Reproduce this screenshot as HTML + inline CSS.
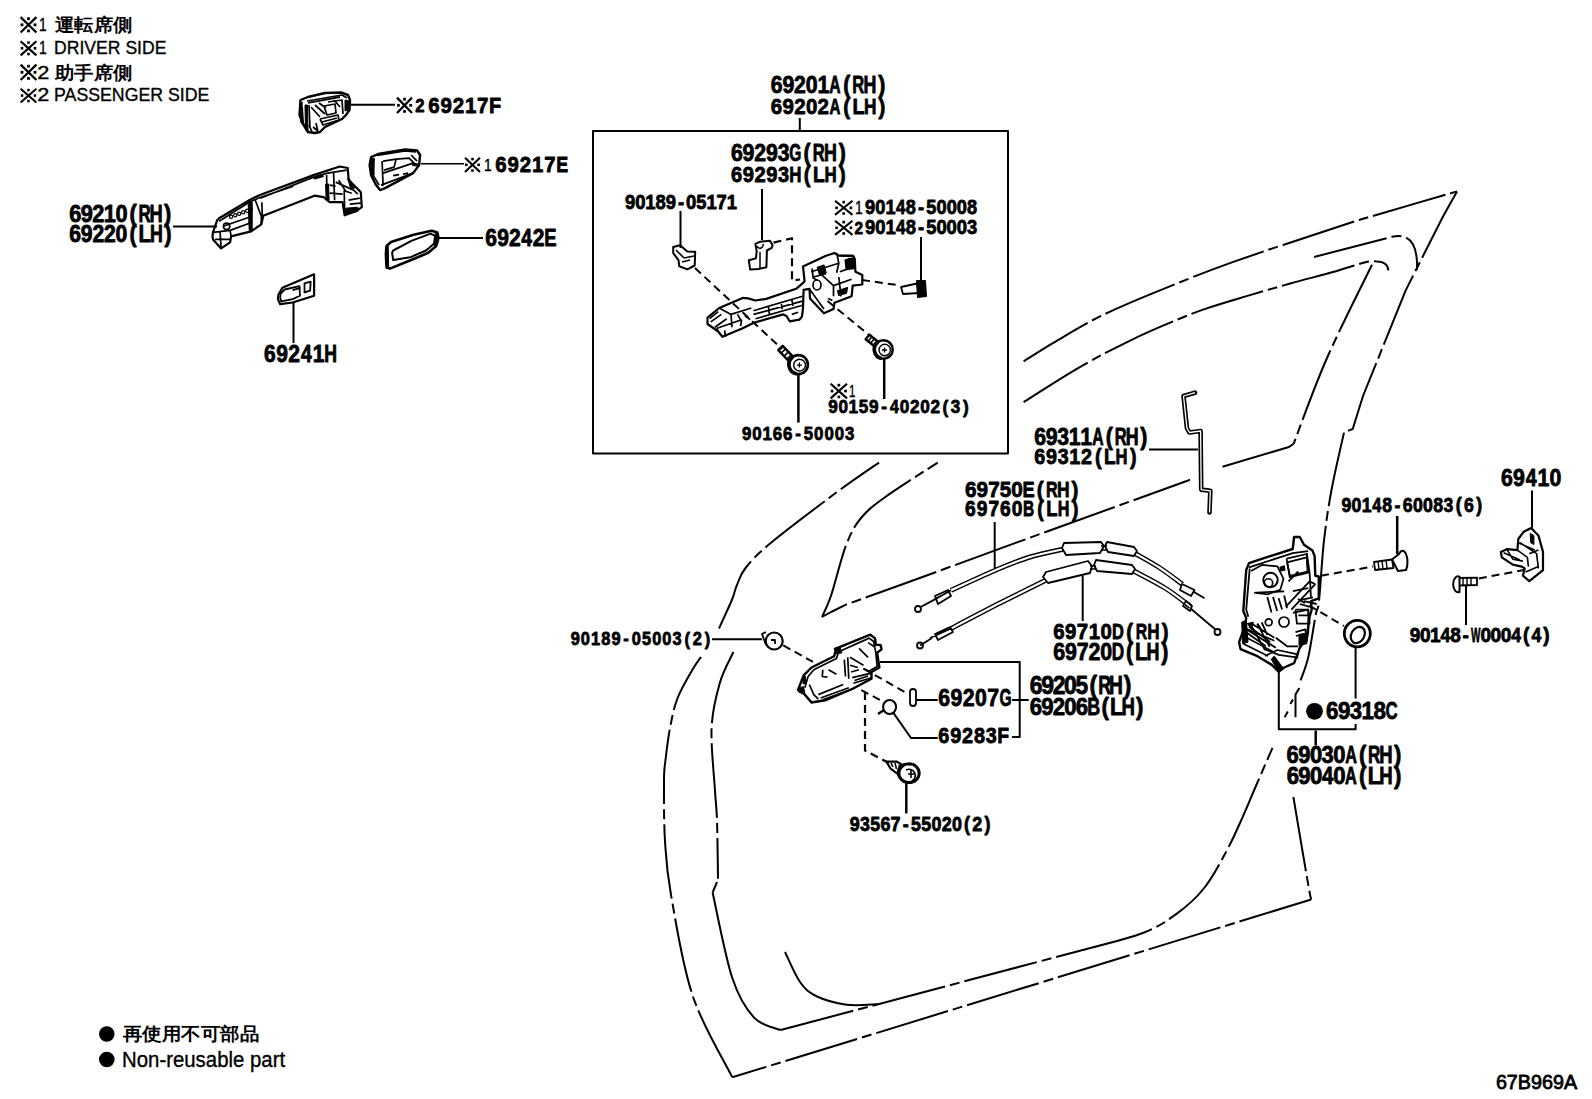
<!DOCTYPE html>
<html><head><meta charset="utf-8"><style>
html,body{margin:0;padding:0;background:#fff;}
body{width:1592px;height:1099px;overflow:hidden;}
svg{display:block;}
text{font-family:"Liberation Sans", sans-serif;fill:#000;}
</style></head><body>
<svg width="1592" height="1099" viewBox="0 0 1592 1099" stroke-linecap="butt" stroke-linejoin="round">
<path d="M20.6 41.2L36.4 55.4M36.4 41.2L20.6 55.4" stroke="#000" stroke-width="2.10" fill="none"/>
<rect x="27.2" y="41.3" width="2.6" height="2.6"/>
<rect x="27.2" y="52.7" width="2.6" height="2.6"/>
<rect x="20.7" y="47.0" width="2.6" height="2.6"/>
<rect x="33.7" y="47.0" width="2.6" height="2.6"/>
<text x="38.9" y="53.8" font-size="17.86" font-weight="400" textLength="7.7" lengthAdjust="spacingAndGlyphs" stroke="#000" stroke-width="0.35">1</text>
<text x="54.1" y="53.8" font-size="17.86" font-weight="400" textLength="112.3" lengthAdjust="spacingAndGlyphs" stroke="#000" stroke-width="0.35">DRIVER SIDE</text>
<path d="M20.6 17.1L36.4 32.5M36.4 17.1L20.6 32.5" stroke="#000" stroke-width="2.25" fill="none"/>
<rect x="27.1" y="17.3" width="2.8" height="2.8"/>
<rect x="27.1" y="29.5" width="2.8" height="2.8"/>
<rect x="20.6" y="23.4" width="2.8" height="2.8"/>
<rect x="33.6" y="23.4" width="2.8" height="2.8"/>
<text x="38.9" y="30.5" font-size="18.57" font-weight="400" textLength="7.7" lengthAdjust="spacingAndGlyphs" stroke="#000" stroke-width="0.35">1</text>
<text x="55" y="31" font-size="18" font-weight="700" textLength="77" lengthAdjust="spacingAndGlyphs">運転席側</text>
<path d="M20.6 64.6L36.4 80.0M36.4 64.6L20.6 80.0" stroke="#000" stroke-width="2.25" fill="none"/>
<rect x="27.1" y="64.8" width="2.8" height="2.8"/>
<rect x="27.1" y="77.0" width="2.8" height="2.8"/>
<rect x="20.6" y="70.9" width="2.8" height="2.8"/>
<rect x="33.6" y="70.9" width="2.8" height="2.8"/>
<text x="37.3" y="78.5" font-size="18.57" font-weight="400" textLength="12.1" lengthAdjust="spacingAndGlyphs" stroke="#000" stroke-width="0.35">2</text>
<text x="55" y="79" font-size="18" font-weight="700" textLength="77" lengthAdjust="spacingAndGlyphs">助手席側</text>
<path d="M20.6 88.7L36.4 102.4M36.4 88.7L20.6 102.4" stroke="#000" stroke-width="2.02" fill="none"/>
<rect x="27.2" y="88.8" width="2.5" height="2.5"/>
<rect x="27.2" y="99.8" width="2.5" height="2.5"/>
<rect x="20.8" y="94.3" width="2.5" height="2.5"/>
<rect x="33.7" y="94.3" width="2.5" height="2.5"/>
<text x="37.3" y="100.6" font-size="18.00" font-weight="400" textLength="12.1" lengthAdjust="spacingAndGlyphs" stroke="#000" stroke-width="0.35">2</text>
<text x="54.1" y="100.6" font-size="18.00" font-weight="400" textLength="155.2" lengthAdjust="spacingAndGlyphs" stroke="#000" stroke-width="0.35">PASSENGER SIDE</text>
<path d="M397.0 97.6L412.0 113.0M412.0 97.6L397.0 113.0" stroke="#000" stroke-width="2.25" fill="none"/>
<rect x="403.1" y="97.8" width="2.8" height="2.8"/>
<rect x="403.1" y="110.0" width="2.8" height="2.8"/>
<rect x="397.0" y="103.9" width="2.8" height="2.8"/>
<rect x="409.3" y="103.9" width="2.8" height="2.8"/>
<g font-size="18.36" font-weight="700" text-anchor="middle" stroke="#000" stroke-width="0.8"><text transform="translate(420.0 111.7) scale(0.908 1)">2</text></g>
<g font-size="22.60" font-weight="700" text-anchor="middle" stroke="#000" stroke-width="0.8"><text transform="translate(434.0 112.7) scale(0.908 1)">6</text><text transform="translate(446.2 112.7) scale(0.908 1)">9</text><text transform="translate(458.4 112.7) scale(0.908 1)">2</text><text transform="translate(470.6 112.7) scale(0.908 1)">1</text><text transform="translate(482.8 112.7) scale(0.908 1)">7</text><text transform="translate(495.0 112.7) scale(0.883 1)">F</text></g>
<path d="M465.0 157.7L480.0 171.9M480.0 157.7L465.0 171.9" stroke="#000" stroke-width="2.10" fill="none"/>
<rect x="471.2" y="157.8" width="2.6" height="2.6"/>
<rect x="471.2" y="169.2" width="2.6" height="2.6"/>
<rect x="465.0" y="163.5" width="2.6" height="2.6"/>
<rect x="477.3" y="163.5" width="2.6" height="2.6"/>
<text x="483.9" y="171.0" font-size="15.71" font-weight="400" textLength="7.7" lengthAdjust="spacingAndGlyphs" stroke="#000" stroke-width="0.35">1</text>
<g font-size="22.46" font-weight="700" text-anchor="middle" stroke="#000" stroke-width="0.8"><text transform="translate(500.9 172.3) scale(0.908 1)">6</text><text transform="translate(513.2 172.3) scale(0.908 1)">9</text><text transform="translate(525.4 172.3) scale(0.908 1)">2</text><text transform="translate(537.6 172.3) scale(0.908 1)">1</text><text transform="translate(549.8 172.3) scale(0.908 1)">7</text><text transform="translate(562.1 172.3) scale(0.798 1)">E</text></g>
<g font-size="24.01" font-weight="700" text-anchor="middle" stroke="#000" stroke-width="0.8"><text transform="translate(75.3 221.7) scale(0.908 1)">6</text><text transform="translate(86.8 221.7) scale(0.908 1)">9</text><text transform="translate(98.4 221.7) scale(0.908 1)">2</text><text transform="translate(109.9 221.7) scale(0.908 1)">1</text><text transform="translate(121.5 221.7) scale(0.908 1)">0</text><text transform="translate(133.1 221.7) scale(0.908 1)">(</text><text transform="translate(144.6 221.7) scale(0.705 1)">R</text><text transform="translate(156.2 221.7) scale(0.762 1)">H</text><text transform="translate(167.7 221.7) scale(0.908 1)">)</text></g>
<g font-size="23.31" font-weight="700" text-anchor="middle" stroke="#000" stroke-width="0.8"><text transform="translate(75.1 242.2) scale(0.908 1)">6</text><text transform="translate(86.7 242.2) scale(0.908 1)">9</text><text transform="translate(98.3 242.2) scale(0.908 1)">2</text><text transform="translate(109.9 242.2) scale(0.908 1)">2</text><text transform="translate(121.5 242.2) scale(0.908 1)">0</text><text transform="translate(133.1 242.2) scale(0.908 1)">(</text><text transform="translate(144.7 242.2) scale(0.872 1)">L</text><text transform="translate(156.3 242.2) scale(0.762 1)">H</text><text transform="translate(167.9 242.2) scale(0.908 1)">)</text></g>
<g font-size="23.16" font-weight="700" text-anchor="middle" stroke="#000" stroke-width="0.8"><text transform="translate(491.1 245.7) scale(0.908 1)">6</text><text transform="translate(503.0 245.7) scale(0.908 1)">9</text><text transform="translate(514.8 245.7) scale(0.908 1)">2</text><text transform="translate(526.7 245.7) scale(0.836 1)">4</text><text transform="translate(538.5 245.7) scale(0.908 1)">2</text><text transform="translate(550.4 245.7) scale(0.798 1)">E</text></g>
<g font-size="23.16" font-weight="700" text-anchor="middle" stroke="#000" stroke-width="0.8"><text transform="translate(269.9 361.5) scale(0.908 1)">6</text><text transform="translate(282.0 361.5) scale(0.908 1)">9</text><text transform="translate(294.2 361.5) scale(0.908 1)">2</text><text transform="translate(306.3 361.5) scale(0.836 1)">4</text><text transform="translate(318.5 361.5) scale(0.908 1)">1</text><text transform="translate(330.6 361.5) scale(0.762 1)">H</text></g>
<g font-size="23.45" font-weight="700" text-anchor="middle" stroke="#000" stroke-width="0.8"><text transform="translate(776.6 92.7) scale(0.908 1)">6</text><text transform="translate(788.3 92.7) scale(0.908 1)">9</text><text transform="translate(800.0 92.7) scale(0.908 1)">2</text><text transform="translate(811.6 92.7) scale(0.908 1)">0</text><text transform="translate(823.3 92.7) scale(0.908 1)">1</text><text transform="translate(835.0 92.7) scale(0.667 1)">A</text><text transform="translate(846.7 92.7) scale(0.908 1)">(</text><text transform="translate(858.3 92.7) scale(0.705 1)">R</text><text transform="translate(870.0 92.7) scale(0.762 1)">H</text><text transform="translate(881.7 92.7) scale(0.908 1)">)</text></g>
<g font-size="22.60" font-weight="700" text-anchor="middle" stroke="#000" stroke-width="0.8"><text transform="translate(776.5 113.7) scale(0.908 1)">6</text><text transform="translate(788.2 113.7) scale(0.908 1)">9</text><text transform="translate(799.9 113.7) scale(0.908 1)">2</text><text transform="translate(811.6 113.7) scale(0.908 1)">0</text><text transform="translate(823.3 113.7) scale(0.908 1)">2</text><text transform="translate(835.0 113.7) scale(0.667 1)">A</text><text transform="translate(846.7 113.7) scale(0.908 1)">(</text><text transform="translate(858.4 113.7) scale(0.872 1)">L</text><text transform="translate(870.1 113.7) scale(0.762 1)">H</text><text transform="translate(881.8 113.7) scale(0.908 1)">)</text></g>
<g font-size="23.45" font-weight="700" text-anchor="middle" stroke="#000" stroke-width="0.8"><text transform="translate(736.8 161.3) scale(0.908 1)">6</text><text transform="translate(748.5 161.3) scale(0.908 1)">9</text><text transform="translate(760.2 161.3) scale(0.908 1)">2</text><text transform="translate(771.9 161.3) scale(0.908 1)">9</text><text transform="translate(783.6 161.3) scale(0.901 1)">3</text><text transform="translate(795.4 161.3) scale(0.664 1)">G</text><text transform="translate(807.1 161.3) scale(0.908 1)">(</text><text transform="translate(818.8 161.3) scale(0.705 1)">R</text><text transform="translate(830.5 161.3) scale(0.762 1)">H</text><text transform="translate(842.2 161.3) scale(0.908 1)">)</text></g>
<g font-size="22.18" font-weight="700" text-anchor="middle" stroke="#000" stroke-width="0.8"><text transform="translate(736.6 182.4) scale(0.908 1)">6</text><text transform="translate(748.3 182.4) scale(0.908 1)">9</text><text transform="translate(760.1 182.4) scale(0.908 1)">2</text><text transform="translate(771.9 182.4) scale(0.908 1)">9</text><text transform="translate(783.6 182.4) scale(0.901 1)">3</text><text transform="translate(795.4 182.4) scale(0.762 1)">H</text><text transform="translate(807.1 182.4) scale(0.908 1)">(</text><text transform="translate(818.9 182.4) scale(0.872 1)">L</text><text transform="translate(830.7 182.4) scale(0.762 1)">H</text><text transform="translate(842.4 182.4) scale(0.908 1)">)</text></g>
<g font-size="20.34" font-weight="700" text-anchor="middle" stroke="#000" stroke-width="0.8"><text transform="translate(630.1 208.7) scale(0.908 1)">9</text><text transform="translate(640.3 208.7) scale(0.908 1)">0</text><text transform="translate(650.4 208.7) scale(0.908 1)">1</text><text transform="translate(660.6 208.7) scale(0.907 1)">8</text><text transform="translate(670.8 208.7) scale(0.908 1)">9</text><text transform="translate(681.0 208.7) scale(0.908 1)">-</text><text transform="translate(691.2 208.7) scale(0.908 1)">0</text><text transform="translate(701.4 208.7) scale(0.900 1)">5</text><text transform="translate(711.6 208.7) scale(0.908 1)">1</text><text transform="translate(721.7 208.7) scale(0.908 1)">7</text><text transform="translate(731.9 208.7) scale(0.908 1)">1</text></g>
<path d="M835.0 200.7L852.5 214.9M852.5 200.7L835.0 214.9" stroke="#000" stroke-width="2.10" fill="none"/>
<rect x="842.4" y="200.8" width="2.6" height="2.6"/>
<rect x="842.4" y="212.2" width="2.6" height="2.6"/>
<rect x="835.3" y="206.5" width="2.6" height="2.6"/>
<rect x="849.6" y="206.5" width="2.6" height="2.6"/>
<text x="854.9" y="214.0" font-size="18.57" font-weight="400" textLength="7.7" lengthAdjust="spacingAndGlyphs" stroke="#000" stroke-width="0.35">1</text>
<g font-size="20.06" font-weight="700" text-anchor="middle" stroke="#000" stroke-width="0.8"><text transform="translate(870.1 213.7) scale(0.908 1)">9</text><text transform="translate(880.3 213.7) scale(0.908 1)">0</text><text transform="translate(890.5 213.7) scale(0.908 1)">1</text><text transform="translate(900.7 213.7) scale(0.836 1)">4</text><text transform="translate(910.9 213.7) scale(0.907 1)">8</text><text transform="translate(921.1 213.7) scale(0.908 1)">-</text><text transform="translate(931.3 213.7) scale(0.900 1)">5</text><text transform="translate(941.5 213.7) scale(0.908 1)">0</text><text transform="translate(951.7 213.7) scale(0.908 1)">0</text><text transform="translate(961.9 213.7) scale(0.908 1)">0</text><text transform="translate(972.1 213.7) scale(0.907 1)">8</text></g>
<path d="M835.0 220.7L852.5 234.9M852.5 220.7L835.0 234.9" stroke="#000" stroke-width="2.10" fill="none"/>
<rect x="842.4" y="220.8" width="2.6" height="2.6"/>
<rect x="842.4" y="232.2" width="2.6" height="2.6"/>
<rect x="835.3" y="226.5" width="2.6" height="2.6"/>
<rect x="849.6" y="226.5" width="2.6" height="2.6"/>
<g font-size="16.95" font-weight="700" text-anchor="middle" stroke="#000" stroke-width="0.8"><text transform="translate(858.7 233.7) scale(0.908 1)">2</text></g>
<g font-size="20.34" font-weight="700" text-anchor="middle" stroke="#000" stroke-width="0.8"><text transform="translate(870.2 233.7) scale(0.908 1)">9</text><text transform="translate(880.4 233.7) scale(0.908 1)">0</text><text transform="translate(890.5 233.7) scale(0.908 1)">1</text><text transform="translate(900.7 233.7) scale(0.836 1)">4</text><text transform="translate(910.9 233.7) scale(0.907 1)">8</text><text transform="translate(921.1 233.7) scale(0.908 1)">-</text><text transform="translate(931.3 233.7) scale(0.900 1)">5</text><text transform="translate(941.5 233.7) scale(0.908 1)">0</text><text transform="translate(951.7 233.7) scale(0.908 1)">0</text><text transform="translate(961.8 233.7) scale(0.908 1)">0</text><text transform="translate(972.0 233.7) scale(0.901 1)">3</text></g>
<g font-size="18.64" font-weight="700" text-anchor="middle" stroke="#000" stroke-width="0.8"><text transform="translate(746.6 439.5) scale(0.908 1)">9</text><text transform="translate(756.9 439.5) scale(0.908 1)">0</text><text transform="translate(767.2 439.5) scale(0.908 1)">1</text><text transform="translate(777.5 439.5) scale(0.908 1)">6</text><text transform="translate(787.8 439.5) scale(0.908 1)">6</text><text transform="translate(798.1 439.5) scale(0.908 1)">-</text><text transform="translate(808.5 439.5) scale(0.900 1)">5</text><text transform="translate(818.8 439.5) scale(0.908 1)">0</text><text transform="translate(829.1 439.5) scale(0.908 1)">0</text><text transform="translate(839.4 439.5) scale(0.908 1)">0</text><text transform="translate(849.7 439.5) scale(0.901 1)">3</text></g>
<path d="M830.6 383.7L847.0 398.4M847.0 383.7L830.6 398.4" stroke="#000" stroke-width="2.17" fill="none"/>
<rect x="837.5" y="383.8" width="2.7" height="2.7"/>
<rect x="837.5" y="395.6" width="2.7" height="2.7"/>
<rect x="830.7" y="389.7" width="2.7" height="2.7"/>
<rect x="844.2" y="389.7" width="2.7" height="2.7"/>
<text x="849.1" y="397.0" font-size="17.14" font-weight="400" textLength="6.4" lengthAdjust="spacingAndGlyphs" stroke="#000" stroke-width="0.35">1</text>
<g font-size="18.93" font-weight="700" text-anchor="middle" stroke="#000" stroke-width="0.8"><text transform="translate(833.0 413.1) scale(0.908 1)">9</text><text transform="translate(843.2 413.1) scale(0.908 1)">0</text><text transform="translate(853.4 413.1) scale(0.908 1)">1</text><text transform="translate(863.6 413.1) scale(0.900 1)">5</text><text transform="translate(873.8 413.1) scale(0.908 1)">9</text><text transform="translate(884.1 413.1) scale(0.908 1)">-</text><text transform="translate(894.3 413.1) scale(0.836 1)">4</text><text transform="translate(904.5 413.1) scale(0.908 1)">0</text><text transform="translate(914.7 413.1) scale(0.908 1)">2</text><text transform="translate(925.0 413.1) scale(0.908 1)">0</text><text transform="translate(935.2 413.1) scale(0.908 1)">2</text><text transform="translate(945.4 413.1) scale(0.908 1)">(</text><text transform="translate(955.6 413.1) scale(0.901 1)">3</text><text transform="translate(965.8 413.1) scale(0.908 1)">)</text></g>
<g font-size="23.45" font-weight="700" text-anchor="middle" stroke="#000" stroke-width="0.8"><text transform="translate(1040.1 445.3) scale(0.908 1)">6</text><text transform="translate(1051.7 445.3) scale(0.908 1)">9</text><text transform="translate(1063.2 445.3) scale(0.901 1)">3</text><text transform="translate(1074.7 445.3) scale(0.908 1)">1</text><text transform="translate(1086.2 445.3) scale(0.908 1)">1</text><text transform="translate(1097.8 445.3) scale(0.667 1)">A</text><text transform="translate(1109.3 445.3) scale(0.908 1)">(</text><text transform="translate(1120.8 445.3) scale(0.705 1)">R</text><text transform="translate(1132.3 445.3) scale(0.762 1)">H</text><text transform="translate(1143.9 445.3) scale(0.908 1)">)</text></g>
<g font-size="21.75" font-weight="700" text-anchor="middle" stroke="#000" stroke-width="0.8"><text transform="translate(1039.8 464.1) scale(0.908 1)">6</text><text transform="translate(1051.5 464.1) scale(0.908 1)">9</text><text transform="translate(1063.1 464.1) scale(0.901 1)">3</text><text transform="translate(1074.8 464.1) scale(0.908 1)">1</text><text transform="translate(1086.5 464.1) scale(0.908 1)">2</text><text transform="translate(1098.2 464.1) scale(0.908 1)">(</text><text transform="translate(1109.9 464.1) scale(0.872 1)">L</text><text transform="translate(1121.5 464.1) scale(0.762 1)">H</text><text transform="translate(1133.2 464.1) scale(0.908 1)">)</text></g>
<g font-size="22.88" font-weight="700" text-anchor="middle" stroke="#000" stroke-width="0.8"><text transform="translate(970.8 496.7) scale(0.908 1)">6</text><text transform="translate(982.4 496.7) scale(0.908 1)">9</text><text transform="translate(994.0 496.7) scale(0.908 1)">7</text><text transform="translate(1005.5 496.7) scale(0.900 1)">5</text><text transform="translate(1017.1 496.7) scale(0.908 1)">0</text><text transform="translate(1028.7 496.7) scale(0.798 1)">E</text><text transform="translate(1040.3 496.7) scale(0.908 1)">(</text><text transform="translate(1051.8 496.7) scale(0.705 1)">R</text><text transform="translate(1063.4 496.7) scale(0.762 1)">H</text><text transform="translate(1075.0 496.7) scale(0.908 1)">)</text></g>
<g font-size="21.19" font-weight="700" text-anchor="middle" stroke="#000" stroke-width="0.8"><text transform="translate(970.4 515.7) scale(0.908 1)">6</text><text transform="translate(982.1 515.7) scale(0.908 1)">9</text><text transform="translate(993.8 515.7) scale(0.908 1)">7</text><text transform="translate(1005.4 515.7) scale(0.908 1)">6</text><text transform="translate(1017.1 515.7) scale(0.908 1)">0</text><text transform="translate(1028.7 515.7) scale(0.734 1)">B</text><text transform="translate(1040.4 515.7) scale(0.908 1)">(</text><text transform="translate(1052.0 515.7) scale(0.872 1)">L</text><text transform="translate(1063.7 515.7) scale(0.762 1)">H</text><text transform="translate(1075.3 515.7) scale(0.908 1)">)</text></g>
<g font-size="23.45" font-weight="700" text-anchor="middle" stroke="#000" stroke-width="0.8"><text transform="translate(1506.9 485.6) scale(0.908 1)">6</text><text transform="translate(1519.0 485.6) scale(0.908 1)">9</text><text transform="translate(1531.1 485.6) scale(0.836 1)">4</text><text transform="translate(1543.3 485.6) scale(0.908 1)">1</text><text transform="translate(1555.4 485.6) scale(0.908 1)">0</text></g>
<g font-size="19.49" font-weight="700" text-anchor="middle" stroke="#000" stroke-width="0.8"><text transform="translate(1346.3 512.2) scale(0.908 1)">9</text><text transform="translate(1356.5 512.2) scale(0.908 1)">0</text><text transform="translate(1366.7 512.2) scale(0.908 1)">1</text><text transform="translate(1376.9 512.2) scale(0.836 1)">4</text><text transform="translate(1387.2 512.2) scale(0.907 1)">8</text><text transform="translate(1397.4 512.2) scale(0.908 1)">-</text><text transform="translate(1407.6 512.2) scale(0.908 1)">6</text><text transform="translate(1417.8 512.2) scale(0.908 1)">0</text><text transform="translate(1428.0 512.2) scale(0.908 1)">0</text><text transform="translate(1438.2 512.2) scale(0.907 1)">8</text><text transform="translate(1448.5 512.2) scale(0.901 1)">3</text><text transform="translate(1458.7 512.2) scale(0.908 1)">(</text><text transform="translate(1468.9 512.2) scale(0.908 1)">6</text><text transform="translate(1479.1 512.2) scale(0.908 1)">)</text></g>
<g font-size="21.05" font-weight="700" text-anchor="middle" stroke="#000" stroke-width="0.8"><text transform="translate(1415.1 641.6) scale(0.908 1)">9</text><text transform="translate(1425.2 641.6) scale(0.908 1)">0</text><text transform="translate(1435.3 641.6) scale(0.908 1)">1</text><text transform="translate(1445.4 641.6) scale(0.836 1)">4</text><text transform="translate(1455.5 641.6) scale(0.907 1)">8</text><text transform="translate(1465.6 641.6) scale(0.908 1)">-</text><text transform="translate(1475.7 641.6) scale(0.475 1)">W</text><text transform="translate(1485.8 641.6) scale(0.908 1)">0</text><text transform="translate(1495.9 641.6) scale(0.908 1)">0</text><text transform="translate(1506.0 641.6) scale(0.908 1)">0</text><text transform="translate(1516.1 641.6) scale(0.836 1)">4</text><text transform="translate(1526.2 641.6) scale(0.908 1)">(</text><text transform="translate(1536.3 641.6) scale(0.836 1)">4</text><text transform="translate(1546.4 641.6) scale(0.908 1)">)</text></g>
<g font-size="22.46" font-weight="700" text-anchor="middle" stroke="#000" stroke-width="0.8"><text transform="translate(1058.9 639.2) scale(0.908 1)">6</text><text transform="translate(1070.7 639.2) scale(0.908 1)">9</text><text transform="translate(1082.5 639.2) scale(0.908 1)">7</text><text transform="translate(1094.3 639.2) scale(0.908 1)">1</text><text transform="translate(1106.1 639.2) scale(0.908 1)">0</text><text transform="translate(1117.9 639.2) scale(0.730 1)">D</text><text transform="translate(1129.7 639.2) scale(0.908 1)">(</text><text transform="translate(1141.5 639.2) scale(0.705 1)">R</text><text transform="translate(1153.3 639.2) scale(0.762 1)">H</text><text transform="translate(1165.1 639.2) scale(0.908 1)">)</text></g>
<g font-size="23.59" font-weight="700" text-anchor="middle" stroke="#000" stroke-width="0.8"><text transform="translate(1059.2 659.7) scale(0.908 1)">6</text><text transform="translate(1070.9 659.7) scale(0.908 1)">9</text><text transform="translate(1082.7 659.7) scale(0.908 1)">7</text><text transform="translate(1094.4 659.7) scale(0.908 1)">2</text><text transform="translate(1106.1 659.7) scale(0.908 1)">0</text><text transform="translate(1117.9 659.7) scale(0.730 1)">D</text><text transform="translate(1129.6 659.7) scale(0.908 1)">(</text><text transform="translate(1141.3 659.7) scale(0.872 1)">L</text><text transform="translate(1153.1 659.7) scale(0.762 1)">H</text><text transform="translate(1164.8 659.7) scale(0.908 1)">)</text></g>
<g font-size="18.08" font-weight="700" text-anchor="middle" stroke="#000" stroke-width="0.8"><text transform="translate(575.3 644.9) scale(0.908 1)">9</text><text transform="translate(585.4 644.9) scale(0.908 1)">0</text><text transform="translate(595.6 644.9) scale(0.908 1)">1</text><text transform="translate(605.8 644.9) scale(0.907 1)">8</text><text transform="translate(616.0 644.9) scale(0.908 1)">9</text><text transform="translate(626.1 644.9) scale(0.908 1)">-</text><text transform="translate(636.3 644.9) scale(0.908 1)">0</text><text transform="translate(646.5 644.9) scale(0.900 1)">5</text><text transform="translate(656.7 644.9) scale(0.908 1)">0</text><text transform="translate(666.8 644.9) scale(0.908 1)">0</text><text transform="translate(677.0 644.9) scale(0.901 1)">3</text><text transform="translate(687.2 644.9) scale(0.908 1)">(</text><text transform="translate(697.4 644.9) scale(0.908 1)">2</text><text transform="translate(707.5 644.9) scale(0.908 1)">)</text></g>
<g font-size="25.28" font-weight="700" text-anchor="middle" stroke="#000" stroke-width="0.8"><text transform="translate(1036.1 694.0) scale(0.908 1)">6</text><text transform="translate(1047.6 694.0) scale(0.908 1)">9</text><text transform="translate(1059.0 694.0) scale(0.908 1)">2</text><text transform="translate(1070.4 694.0) scale(0.908 1)">0</text><text transform="translate(1081.8 694.0) scale(0.900 1)">5</text><text transform="translate(1093.2 694.0) scale(0.908 1)">(</text><text transform="translate(1104.6 694.0) scale(0.705 1)">R</text><text transform="translate(1116.0 694.0) scale(0.762 1)">H</text><text transform="translate(1127.5 694.0) scale(0.908 1)">)</text></g>
<g font-size="24.44" font-weight="700" text-anchor="middle" stroke="#000" stroke-width="0.8"><text transform="translate(1036.0 715.0) scale(0.908 1)">6</text><text transform="translate(1047.5 715.0) scale(0.908 1)">9</text><text transform="translate(1059.0 715.0) scale(0.908 1)">2</text><text transform="translate(1070.5 715.0) scale(0.908 1)">0</text><text transform="translate(1082.0 715.0) scale(0.908 1)">6</text><text transform="translate(1093.6 715.0) scale(0.734 1)">B</text><text transform="translate(1105.1 715.0) scale(0.908 1)">(</text><text transform="translate(1116.6 715.0) scale(0.872 1)">L</text><text transform="translate(1128.1 715.0) scale(0.762 1)">H</text><text transform="translate(1139.6 715.0) scale(0.908 1)">)</text></g>
<g font-size="23.45" font-weight="700" text-anchor="middle" stroke="#000" stroke-width="0.8"><text transform="translate(944.1 706.3) scale(0.908 1)">6</text><text transform="translate(956.4 706.3) scale(0.908 1)">9</text><text transform="translate(968.7 706.3) scale(0.908 1)">2</text><text transform="translate(980.9 706.3) scale(0.908 1)">0</text><text transform="translate(993.2 706.3) scale(0.908 1)">7</text><text transform="translate(1005.5 706.3) scale(0.664 1)">G</text></g>
<g font-size="21.89" font-weight="700" text-anchor="middle" stroke="#000" stroke-width="0.8"><text transform="translate(943.8 743.2) scale(0.908 1)">6</text><text transform="translate(955.7 743.2) scale(0.908 1)">9</text><text transform="translate(967.6 743.2) scale(0.908 1)">2</text><text transform="translate(979.4 743.2) scale(0.907 1)">8</text><text transform="translate(991.3 743.2) scale(0.901 1)">3</text><text transform="translate(1003.2 743.2) scale(0.883 1)">F</text></g>
<circle cx="1314.5" cy="711.3" r="8.4"/>
<g font-size="24.58" font-weight="700" text-anchor="middle" stroke="#000" stroke-width="0.8"><text transform="translate(1332.2 719.1) scale(0.908 1)">6</text><text transform="translate(1344.1 719.1) scale(0.908 1)">9</text><text transform="translate(1356.0 719.1) scale(0.901 1)">3</text><text transform="translate(1367.8 719.1) scale(0.908 1)">1</text><text transform="translate(1379.7 719.1) scale(0.907 1)">8</text><text transform="translate(1391.6 719.1) scale(0.685 1)">C</text></g>
<g font-size="24.29" font-weight="700" text-anchor="middle" stroke="#000" stroke-width="0.8"><text transform="translate(1292.7 763.4) scale(0.908 1)">6</text><text transform="translate(1304.4 763.4) scale(0.908 1)">9</text><text transform="translate(1316.1 763.4) scale(0.908 1)">0</text><text transform="translate(1327.7 763.4) scale(0.901 1)">3</text><text transform="translate(1339.4 763.4) scale(0.908 1)">0</text><text transform="translate(1351.0 763.4) scale(0.667 1)">A</text><text transform="translate(1362.7 763.4) scale(0.908 1)">(</text><text transform="translate(1374.3 763.4) scale(0.705 1)">R</text><text transform="translate(1386.0 763.4) scale(0.762 1)">H</text><text transform="translate(1397.7 763.4) scale(0.908 1)">)</text></g>
<g font-size="24.44" font-weight="700" text-anchor="middle" stroke="#000" stroke-width="0.8"><text transform="translate(1292.8 784.4) scale(0.908 1)">6</text><text transform="translate(1304.4 784.4) scale(0.908 1)">9</text><text transform="translate(1316.1 784.4) scale(0.908 1)">0</text><text transform="translate(1327.7 784.4) scale(0.836 1)">4</text><text transform="translate(1339.4 784.4) scale(0.908 1)">0</text><text transform="translate(1351.0 784.4) scale(0.667 1)">A</text><text transform="translate(1362.7 784.4) scale(0.908 1)">(</text><text transform="translate(1374.3 784.4) scale(0.872 1)">L</text><text transform="translate(1386.0 784.4) scale(0.762 1)">H</text><text transform="translate(1397.6 784.4) scale(0.908 1)">)</text></g>
<g font-size="19.77" font-weight="700" text-anchor="middle" stroke="#000" stroke-width="0.8"><text transform="translate(854.8 830.7) scale(0.908 1)">9</text><text transform="translate(865.0 830.7) scale(0.901 1)">3</text><text transform="translate(875.2 830.7) scale(0.900 1)">5</text><text transform="translate(885.4 830.7) scale(0.908 1)">6</text><text transform="translate(895.6 830.7) scale(0.908 1)">7</text><text transform="translate(905.8 830.7) scale(0.908 1)">-</text><text transform="translate(916.0 830.7) scale(0.900 1)">5</text><text transform="translate(926.3 830.7) scale(0.900 1)">5</text><text transform="translate(936.5 830.7) scale(0.908 1)">0</text><text transform="translate(946.7 830.7) scale(0.908 1)">2</text><text transform="translate(956.9 830.7) scale(0.908 1)">0</text><text transform="translate(967.1 830.7) scale(0.908 1)">(</text><text transform="translate(977.3 830.7) scale(0.908 1)">2</text><text transform="translate(987.5 830.7) scale(0.908 1)">)</text></g>
<text x="1495.9" y="1088.9" font-size="19.86" font-weight="400" textLength="81.2" lengthAdjust="spacingAndGlyphs" stroke="#000" stroke-width="0.8">67B969A</text>
<circle cx="106.8" cy="1034" r="7.8"/><circle cx="106.8" cy="1059.5" r="7.8"/>
<text x="123" y="1040" font-size="18" font-weight="700" textLength="136" lengthAdjust="spacingAndGlyphs">再使用不可部品</text>
<text x="122.0" y="1067.3" font-size="21.86" font-weight="400" textLength="163.1" lengthAdjust="spacingAndGlyphs" stroke="#000" stroke-width="0.35">Non-reusable part</text>
<path d="M593 131H1008V453.5H593Z" stroke="#000" stroke-width="2" fill="none" />
<path d="M799.8 118V131" stroke="#000" stroke-width="2" fill="none" />
<path d="M351 104.7H395" stroke="#000" stroke-width="2" fill="none" />
<path d="M421 163.8H464" stroke="#000" stroke-width="1.5" fill="none" />
<path d="M173 226.5H217" stroke="#000" stroke-width="2" fill="none" />
<path d="M438 238H483" stroke="#000" stroke-width="2" fill="none" />
<path d="M293.5 303V343" stroke="#000" stroke-width="2" fill="none" />
<path d="M762 189V240" stroke="#000" stroke-width="2" fill="none" />
<path d="M680.5 211V248" stroke="#000" stroke-width="2" fill="none" />
<path d="M921 237V289" stroke="#000" stroke-width="2" fill="none" />
<path d="M798.4 372V422.6" stroke="#000" stroke-width="2.5" fill="none" />
<path d="M884.2 359V399" stroke="#000" stroke-width="2.5" fill="none" />
<path d="M1149 449.5H1198" stroke="#000" stroke-width="2" fill="none" />
<path d="M994.7 522V568" stroke="#000" stroke-width="2" fill="none" />
<path d="M1082.7 575.7V621" stroke="#000" stroke-width="2" fill="none" />
<path d="M1532 490.4V528" stroke="#000" stroke-width="2" fill="none" />
<path d="M1397.2 516V554" stroke="#000" stroke-width="2.5" fill="none" />
<path d="M1466 583V625" stroke="#000" stroke-width="2" fill="none" />
<path d="M712 639.2H762" stroke="#000" stroke-width="2" fill="none" />
<path d="M880 662H1019.7V737H1012" stroke="#000" stroke-width="2" fill="none" />
<path d="M1012 700H1028.7" stroke="#000" stroke-width="2" fill="none" />
<path d="M915 700H937.7" stroke="#000" stroke-width="2" fill="none" />
<path d="M892.5 711.6L911 738H937.7" stroke="#000" stroke-width="2" fill="none" />
<path d="M906.3 783V813.4" stroke="#000" stroke-width="2.5" fill="none" />
<path d="M1355.6 645.5V698.5" stroke="#000" stroke-width="2" fill="none" />
<path d="M1278.8 671.4V729.3H1355.6V724" stroke="#000" stroke-width="2" fill="none" />
<path d="M1315.7 730.5V745.3" stroke="#000" stroke-width="2.5" fill="none" />
<path d="M1023.6 361.4 C1028.6 358.3 1040.9 350.1 1053.7 342.6 C1066.5 335.1 1082.9 324.9 1100.5 316.2 C1118.1 307.5 1136.9 299.7 1159.3 290.6 C1181.7 281.5 1204.1 272.3 1234.7 261.4 C1265.3 250.5 1319.3 233.0 1342.8 225.3 C1366.2 217.6 1356.4 220.8 1375.4 215.2 C1394.4 209.5 1443.4 195.4 1457.0 191.4" stroke="#000" stroke-width="2" fill="none" stroke-dasharray="75 5 10 5" />
<path d="M1457.0 191.4 L1443.0 216.5 L1414.4 273.0 L1405.6 290.6 L1363.0 396.0 L1352.8 428.8 L1344.0 432.6" stroke="#000" stroke-width="2" fill="none" stroke-dasharray="75 5 10 5" />
<path d="M1344.0 432.6 C1341.9 442.2 1334.8 472.0 1331.5 490.0 C1328.2 508.0 1326.1 522.0 1324.0 540.5 C1321.9 559.0 1320.4 588.4 1319.0 600.8 C1317.6 613.2 1317.5 605.5 1315.7 614.8 C1313.9 624.1 1310.9 645.7 1308.4 656.6 C1305.9 667.5 1301.9 676.4 1300.6 680.4" stroke="#000" stroke-width="2" fill="none" stroke-dasharray="75 5 10 5" />
<path d="M1299.3 688 L1295.5 694.4 L1295.5 717.3 M1293 699.5 L1290.4 704 M1287.8 711.6 L1284.6 717.3" stroke="#000" stroke-width="2" fill="none" />
<path d="M1293.4 797.0 C1294.5 803.3 1297.1 819.3 1299.7 834.6 C1302.3 849.9 1307.1 878.2 1309.0 889.0 C1310.9 899.8 1310.8 897.8 1311.2 899.5" stroke="#000" stroke-width="2" fill="none" stroke-dasharray="75 5 10 5" />
<path d="M1311.2 899.5 L732.3 1077.3" stroke="#000" stroke-width="2" fill="none" stroke-dasharray="75 5 10 5" />
<path d="M732.3 1077.3 C725.7 1063.8 703.0 1026.4 692.8 996.0 C682.6 965.6 675.6 920.6 671.0 894.8 C666.4 869.0 666.2 860.0 665.0 841.0 C663.8 822.0 663.9 794.2 664.0 780.7 C664.1 767.2 664.5 768.8 665.5 760.0 C666.5 751.2 668.0 738.3 670.0 728.0 C672.0 717.7 673.8 707.8 677.6 698.0 C681.4 688.2 688.8 676.1 692.7 669.3 C696.6 662.5 699.6 659.0 701.0 657.0" stroke="#000" stroke-width="2" fill="none" stroke-dasharray="75 5 10 5" />
<path d="M719.0 628.5 C721.1 623.8 728.9 607.1 731.9 600.0 C734.9 592.9 734.4 591.0 736.7 585.7 C739.0 580.4 739.8 575.1 745.5 568.0 C751.2 560.9 755.6 555.5 770.7 543.0 C785.8 530.5 818.0 506.2 836.0 492.8 C854.0 479.4 871.8 467.6 879.0 462.6" stroke="#000" stroke-width="2" fill="none" stroke-dasharray="75 5 10 5" />
<path d="M1023.6 402.1 C1032.9 396.3 1062.1 377.4 1079.4 367.4 C1096.7 357.3 1112.3 349.3 1127.6 341.8 C1142.9 334.3 1158.2 327.7 1171.3 322.2 C1184.4 316.7 1192.9 313.1 1206.0 308.6 C1219.1 304.1 1236.0 299.3 1250.0 295.1 C1264.0 290.9 1276.0 287.5 1290.3 283.5 C1304.6 279.5 1323.5 274.8 1336.0 271.2 C1348.5 267.6 1358.6 263.8 1365.4 262.2 C1372.2 260.6 1374.9 261.5 1376.8 261.4" stroke="#000" stroke-width="2" fill="none" stroke-dasharray="75 5 10 5" />
<path d="M1376.8 261.4 C1384 261.5 1388.5 265 1388.2 270.4" stroke="#000" stroke-width="2" fill="none" />
<path d="M1372.0 264.8 C1364.5 280.3 1340.1 328.2 1327.0 358.0 C1313.9 387.8 1299.2 429.5 1293.6 443.8" stroke="#000" stroke-width="2" fill="none" stroke-dasharray="75 5 10 5" />
<path d="M1293.6 443.8 L1289.0 447.0 L1220.0 467.4 L1189.5 480.0 L1040.0 534.0 L906.0 583.0 L846.0 604.6 L831.0 612.0 L822.0 617.0" stroke="#000" stroke-width="2" fill="none" stroke-dasharray="75 5 10 5" />
<path d="M822.0 617.0 C823.5 613.5 827.0 607.7 831.0 595.8 C835.0 583.9 841.0 558.5 846.0 545.5 C851.0 532.5 854.3 526.2 861.0 518.0 C867.7 509.8 873.2 505.7 886.0 496.5 C898.8 487.3 929.1 468.2 937.7 462.6" stroke="#000" stroke-width="2" fill="none" stroke-dasharray="75 5 10 5" />
<path d="M1314 257 L1393 236.6 C1410 233 1418 245 1417 270" stroke="#000" stroke-width="2" fill="none" stroke-dasharray="75 5 10 5" />
<path d="M733.4 652.0 C731.1 657.2 723.4 670.3 719.8 683.0 C716.2 695.7 712.4 710.0 711.6 728.0 C710.8 746.0 714.1 775.5 715.0 790.8 C715.9 806.1 716.5 805.4 717.0 820.0 C717.5 834.6 717.8 868.9 718.0 878.7" stroke="#000" stroke-width="2" fill="none" stroke-dasharray="75 5 10 5" />
<path d="M712.6 892.6 C715.9 906.8 725.3 957.1 732.3 978.0 C739.2 998.9 746.2 1009.2 754.3 1017.9 C762.4 1026.6 776.3 1028.0 780.7 1030.0" stroke="#000" stroke-width="2" fill="none" />
<path d="M717 882 L712.6 892.6" stroke="#000" stroke-width="2" fill="none" />
<path d="M780.7 1030.0 L1080.0 950.7" stroke="#000" stroke-width="2" fill="none" stroke-dasharray="75 5 10 5" />
<path d="M1080.0 950.7 C1090.5 947.8 1126.8 939.1 1142.8 933.0 C1158.8 926.9 1166.1 921.4 1176.2 914.1 C1186.3 906.8 1195.0 899.5 1203.4 889.0 C1211.8 878.5 1219.8 863.5 1226.4 851.3 C1233.0 839.1 1238.3 826.6 1243.2 815.8 C1248.1 805.0 1250.8 797.8 1255.7 786.5 C1260.6 775.2 1269.7 754.2 1272.5 747.8" stroke="#000" stroke-width="2" fill="none" stroke-dasharray="75 5 10 5" />
<path d="M785.0 952.0 C787.5 957.0 794.8 974.7 800.0 982.0 C805.2 989.3 808.2 992.2 816.0 996.0 C823.8 999.8 836.5 1003.3 846.7 1004.7 C857.0 1006.1 872.4 1004.3 877.5 1004.2" stroke="#000" stroke-width="2" fill="none" />
<path d="M300.5 100.0 L308.0 97.0 L325.0 93.0 L341.0 92.5 L348.0 95.0 L350.0 100.0 L349.5 110.0 L346.0 115.0 L342.0 119.0 L325.0 127.0 L320.0 132.0 L315.0 133.0 L308.0 132.0 L303.0 124.0 L299.5 115.0Z" stroke="#000" stroke-width="2.4" fill="none" />
<path d="M307.0 101.0 L342.0 95.0 L347.0 98.0 M308.0 102.8 L340.0 97.2 M302.0 102.0 L301.0 118.0 L306.0 129.0 M309.0 105.0 L310.0 128.0 M311.0 107.0 L320.0 117.0 M315.0 105.0 L325.0 114.0 M319.0 103.0 L326.0 108.0 M324.0 106.0 L335.0 104.0 L336.0 113.0 L327.0 115.0 L324.0 106.0 M328.0 102.0 L342.0 100.0 L343.0 114.0 M334.0 100.0 L340.0 107.0 M320.0 119.0 L338.0 115.0 L339.0 120.0 L323.0 125.0 L320.0 119.0 M322.0 122.0 L337.0 118.0 M313.0 127.0 L319.0 132.0 M309.0 125.0 L312.0 132.0 M316.0 123.0 L318.0 132.0" stroke="#000" stroke-width="1.7" fill="none" />
<path d="M299.8 108.0 L302.5 107.0 L303.5 124.0 L301.0 123.0Z M345.0 100.0 L349.0 101.0 L348.5 110.0 L345.0 111.0Z M305.0 105.0 L307.5 105.0 L308.0 131.0 L305.5 130.0Z" stroke="#000" stroke-width="1" fill="#000" />
<path d="M371.1 157.1 L378.1 154.0 L405.1 149.5 L417.1 150.5 L420.1 155.0 L419.1 165.1 L413.1 173.1 L385.1 188.1 L380.1 190.1 L376.1 185.1 L371.1 175.1 L369.6 165.1Z" stroke="#000" stroke-width="2.4" fill="none" />
<path d="M377.1 155.5 L405.1 151.0 L416.1 152.0 M374.1 158.1 L373.1 175.1 L379.1 185.1 M382.1 161.1 L383.1 186.1 M383.1 161.1 L396.1 159.1 L394.1 167.1 L384.1 170.1 M396.1 159.1 L409.1 158.1 L415.1 164.1 M411.1 155.0 L417.1 161.1 M383.1 173.1 L413.1 163.1 M393.1 175.6 L399.1 174.6 M403.1 174.1 L408.1 173.1 M381.1 185.1 L413.1 173.1" stroke="#000" stroke-width="1.7" fill="none" />
<path d="M370.9 159.1 L373.6 158.6 L374.1 175.1 L371.6 174.1Z M412.1 163.1 L419.1 164.1 L418.1 166.1 L412.6 165.6Z" stroke="#000" stroke-width="1" fill="#000" />
<path d="M213.0 232.4 L217.1 220.3 L219.1 218.3 L249.2 200.2 L259.3 195.2 L313.5 175.1 L339.7 166.5 L347.7 168.0 L348.7 180.1 L355.8 187.1 L360.8 192.2 L361.8 207.2 L355.8 211.3 L344.7 215.3 L343.2 206.2 L342.7 202.2 L329.6 202.2 L323.6 197.2 L314.5 195.7 L263.3 215.8 L261.3 224.3 L251.2 231.4 L231.1 236.4 L230.1 242.4 L221.1 248.4 L213.0 239.4 L212.5 236.4Z" stroke="#000" stroke-width="2.2" fill="none" />
<path d="M219.1 221.3 L249.2 202.2 L259.3 197.7 L293.4 186.1 M260.3 198.2 L313.5 177.1 L327.6 173.1 L346.7 170.1 M313.5 177.1 L314.5 178.6 L323.6 176.1 M223.1 226.3 L249.2 217.3 M230.1 230.4 L252.2 222.3 M249.7 200.2 L250.7 230.4 M255.3 200.2 L261.3 216.3 L261.3 224.3 M261.8 202.2 L262.3 216.3 M213.0 232.4 L230.1 230.4 L231.1 236.4 M215.1 239.4 L230.1 239.4 M220.1 232.4 L221.1 248.4 M326.6 175.1 L327.1 200.2 M333.6 173.1 L334.6 200.2 M335.7 182.1 L353.7 190.2 L357.8 194.2 M338.7 180.1 L345.7 191.2 L351.7 193.2 M344.2 190.2 L344.7 215.3 M348.7 200.2 L359.8 198.2 M329.6 185.1 L335.7 186.1 M329.6 193.2 L342.7 194.2 M349.7 204.2 L360.8 203.2" stroke="#000" stroke-width="1.7" fill="none" />
<circle cx="231.1" cy="216.8" r="1.6" stroke="#000" stroke-width="1.2" fill="none"/>
<circle cx="235.2" cy="215.3" r="1.6" stroke="#000" stroke-width="1.2" fill="none"/>
<circle cx="239.2" cy="213.8" r="1.6" stroke="#000" stroke-width="1.2" fill="none"/>
<circle cx="243.2" cy="212.3" r="1.6" stroke="#000" stroke-width="1.2" fill="none"/>
<circle cx="247.2" cy="210.8" r="1.6" stroke="#000" stroke-width="1.2" fill="none"/>
<circle cx="250.7" cy="209.2" r="1.6" stroke="#000" stroke-width="1.2" fill="none"/>
<circle cx="226.6" cy="226.3" r="3.2" stroke="#000" stroke-width="1.6" fill="none"/>
<path d="M325.6 184.1 L328.6 184.1 L329.1 200.2 L326.1 200.2Z M345.7 208.2 L357.8 207.2 L357.8 211.3 L345.7 214.3Z M248.2 203.2 L252.2 202.2 L252.2 230.4 L249.2 230.4Z M347.7 178.1 L349.7 179.1 L354.7 188.1 L350.7 189.1Z" stroke="#000" stroke-width="1" fill="#000" />
<path d="M386.5 246.0 L391.0 242.0 L413.6 234.7 L431.7 230.7 L437.3 232.4 L438.5 238.1 L436.2 246.0 L428.3 252.8 L413.6 259.0 L389.9 268.6 L386.5 267.5 L385.9 253.9Z" stroke="#000" stroke-width="2.6" fill="none" />
<path d="M393.2 250.5 L411.3 240.9 L430.6 233.6 L435.1 235.8 L434.0 243.7 L426.0 250.5 L410.2 257.3 L393.2 260.1 L392.1 252.8Z" stroke="#000" stroke-width="2.0" fill="none" />
<path d="M386.5 246.0 L388.2 245.4 L388.7 267.5 L387.0 267.5Z M435.1 233.6 L437.9 234.7 L436.8 246.0 L434.5 247.1Z" stroke="#000" stroke-width="1" fill="#000" />
<path d="M278.5 294.6 L282.4 287.8 L314.1 274.3 L314.1 295.8 L292.6 302.5 L280.2 304.2 L277.9 299.1Z" stroke="#000" stroke-width="2.2" fill="none" />
<path d="M280.7 293.5 L284.7 289.5 L299.4 286.1 L300.0 295.8 L292.6 299.1 L281.3 301.4 L280.2 298.0Z M304.5 283.3 L310.7 281.6 L310.1 290.7 L304.5 292.4Z" stroke="#000" stroke-width="1.8" fill="none" />
<path d="M292.6 290.1 L300.5 287.8" stroke="#000" stroke-width="1.8" fill="none" />
<path d="M707.5 317.6 L719.2 308.0 L742.7 297.9 L748.1 298.4 L755.5 300.5 L766.2 298.9 L796.1 288.8 L802.5 283.4 L804.6 281.3 L803.0 266.4 L826.0 255.7 L834.5 253.0 L838.8 255.7 L852.7 255.7 L854.8 258.9 L855.4 271.7 L862.3 274.9 L862.3 284.5 L852.7 285.6 L851.6 296.3 L834.5 302.7 L833.5 309.1 L823.9 313.3 L810.0 298.4 L809.5 288.8 L803.6 289.8 L803.0 308.0 L802.0 316.5 L799.3 319.7 L789.7 321.3 L786.5 316.0 L783.3 314.4 L753.4 322.9 L742.7 328.3 L722.4 336.8 L718.2 331.5 L707.5 324.0Z" stroke="#000" stroke-width="2.2" fill="none" />
<path d="M709.6 318.7 L718.2 311.7 M710.7 321.9 L721.4 314.4 M714.9 327.2 L726.7 318.7 M719.2 308.0 L731.0 314.4 L732.0 327.2 M718.2 331.5 L717.1 328.3 L741.6 319.7 M731.0 314.4 L751.3 308.0 M753.4 310.7 L802.5 296.3 M753.4 314.4 L802.5 301.1 M755.5 318.7 L802.5 305.3 M768.3 305.9 L769.4 314.4 M781.2 302.7 L782.2 309.1 M791.8 299.5 L792.9 305.9 M791.8 314.4 L798.2 312.3 M737.4 314.4 L740.6 319.7 M744.8 315.5 L750.2 319.7 M724.6 330.4 L725.6 336.8 M740.6 326.2 L741.6 319.7 M812.1 268.5 L813.2 278.1 L817.5 280.2 M811.1 271.7 L838.8 263.2 M836.7 253.0 L838.8 263.2 L836.7 272.8 M839.9 255.7 L854.8 256.7 M847.4 258.9 L854.8 258.9 M839.9 271.7 L854.8 266.4 M821.7 274.9 L833.5 285.6 L833.5 296.3 M833.5 285.6 L851.6 279.2 M810.0 289.8 L823.9 309.1 M828.1 298.4 L832.4 300.5 M838.8 277.0 L841.0 296.3 M813.2 277.0 L826.0 273.8" stroke="#000" stroke-width="1.7" fill="none" />
<path d="M817.5 267.4 L823.9 265.3 L826.0 272.8 L819.6 274.9Z M845.2 259.9 L853.8 258.9 L853.8 268.5 L846.3 269.6Z M837.7 290.9 L847.4 287.7 L846.3 293.1 L838.8 295.2Z" stroke="#000" stroke-width="1.5" fill="#000" />
<ellipse cx="817" cy="285" rx="4" ry="5" stroke="#000" stroke-width="1.7" fill="none"/>
<path d="M673.2 247.0 L680.2 245.2 L687.3 251.4 L695.2 251.8 L694.7 265.5 L687.3 269.4 L679.3 266.3 L678.5 260.2 L673.2 253.1Z" stroke="#000" stroke-width="2" fill="none" />
<path d="M676 250 L684 258 M684 258 L694 256 M682 262 L690 260" stroke="#000" stroke-width="1.6" fill="none" />
<path d="M755.4 243.9 L760.3 241.7 L770.0 240.8 L772.6 245.2 L771.7 247.9 L766.9 250.5 L766.4 267.2 L758.5 269.0 L750.1 269.4 L748.8 260.2 L755.9 258.4 L756.7 251.4Z" stroke="#000" stroke-width="2" fill="none" />
<path d="M757 246 A3 3 0 1 0 763 244 M760 252 L760 268" stroke="#000" stroke-width="1.5" fill="none" />
<path d="M901.0 287.0 L917.0 283.5 L919.0 293.0 L903.0 294.0Z" stroke="#000" stroke-width="1.8" fill="none" />
<path d="M917 281 L925 281 L926 296 L918 297Z" stroke="#000" stroke-width="2" fill="#000" />
<path d="M778.3 350.1 L789.8 362.1 L794.2 357.9 L782.7 345.9Z" stroke="#000" stroke-width="2.4" fill="#fff" stroke-linejoin="round"/>
<path d="M781.2 353.1 L785.5 348.9" stroke="#000" stroke-width="1.6"/>
<path d="M784.1 356.1 L788.4 351.9" stroke="#000" stroke-width="1.6"/>
<path d="M787.0 359.1 L791.3 354.9" stroke="#000" stroke-width="1.6"/>
<circle cx="798.4" cy="364.6" r="9.5" stroke="#000" stroke-width="2.6" fill="#fff"/>
<path d="M796.5 373.9 A9.5 9.5 0 0 1 792.7 357.0" stroke="#000" stroke-width="3.6" fill="none"/>
<circle cx="799.6" cy="365.1" r="5.9" stroke="#000" stroke-width="1.4" fill="none"/>
<path d="M799.4 362.6 L799.4 367.6 M796.9 365.1 L801.9 365.1" stroke="#000" stroke-width="1.3"/>
<path d="M865.6 339.3 L875.6 347.3 L879.4 342.7 L869.4 334.7Z" stroke="#000" stroke-width="2.4" fill="#fff" stroke-linejoin="round"/>
<path d="M868.1 341.3 L871.9 336.7" stroke="#000" stroke-width="1.6"/>
<path d="M870.6 343.3 L874.4 338.7" stroke="#000" stroke-width="1.6"/>
<path d="M873.1 345.3 L876.9 340.7" stroke="#000" stroke-width="1.6"/>
<circle cx="883.5" cy="349.5" r="9.2" stroke="#000" stroke-width="2.6" fill="#fff"/>
<path d="M881.7 358.5 A9.2 9.2 0 0 1 878.0 342.1" stroke="#000" stroke-width="3.6" fill="none"/>
<circle cx="884.7" cy="350.0" r="5.7" stroke="#000" stroke-width="1.4" fill="none"/>
<path d="M884.5 347.5 L884.5 352.5 M882.0 350.0 L887.0 350.0" stroke="#000" stroke-width="1.3"/>
<path d="M695 268 L782 349" stroke="#000" stroke-width="2" fill="none" stroke-dasharray="8 5" />
<path d="M827.5 301 L869.7 335.5" stroke="#000" stroke-width="2" fill="none" stroke-dasharray="8 5" />
<path d="M773.5 242.6 L792 238.2 L792 280.5 L800 279.5" stroke="#000" stroke-width="2.2" fill="none" stroke-dasharray="8 5" />
<path d="M862 280 L900 285.4" stroke="#000" stroke-width="2" fill="none" stroke-dasharray="8 5" />
<path d="M1190 462 L1218 452 L1219 478 L1190 488Z" fill="#fff"/>
<path d="M1195 392.7 L1183.5 396 L1187 428.4 L1189.5 432.5 L1200.6 431 L1201.2 489.6 L1210.3 490.8 L1209.5 512.5" stroke="#000" stroke-width="4.6" fill="none" stroke-linejoin="round" stroke-linecap="round"/>
<path d="M1195 392.7 L1183.5 396 L1187 428.4 L1189.5 432.5 L1200.6 431 L1201.2 489.6 L1210.3 490.8 L1209.5 512.5" stroke="#fff" stroke-width="1.3" fill="none" stroke-linejoin="round"/>
<path d="M951.0 590.3 C958.4 586.9 982.3 575.8 995.5 570.2 C1008.7 564.7 1018.6 560.5 1030.0 557.0 C1041.4 553.5 1058.3 550.3 1064.0 549.0" stroke="#000" stroke-width="5.0" fill="none"/>
<path d="M951.0 590.3 C958.4 586.9 982.3 575.8 995.5 570.2 C1008.7 564.7 1018.6 560.5 1030.0 557.0 C1041.4 553.5 1058.3 550.3 1064.0 549.0" stroke="#fff" stroke-width="2.2" fill="none"/>
<path d="M1136.0 554.0 C1140.0 556.3 1152.3 563.0 1160.0 568.0 C1167.7 573.0 1178.7 581.6 1182.4 584.3" stroke="#000" stroke-width="5.0" fill="none"/>
<path d="M1136.0 554.0 C1140.0 556.3 1152.3 563.0 1160.0 568.0 C1167.7 573.0 1178.7 581.6 1182.4 584.3" stroke="#fff" stroke-width="2.2" fill="none"/>
<path d="M951.0 628.5 C959.2 624.2 984.2 611.0 1000.0 603.0 C1015.8 595.0 1038.1 584.0 1045.7 580.2" stroke="#000" stroke-width="5.0" fill="none"/>
<path d="M951.0 628.5 C959.2 624.2 984.2 611.0 1000.0 603.0 C1015.8 595.0 1038.1 584.0 1045.7 580.2" stroke="#fff" stroke-width="2.2" fill="none"/>
<path d="M1132.0 570.0 C1137.5 573.0 1155.3 581.9 1165.0 588.0 C1174.7 594.1 1186.2 603.3 1190.4 606.4" stroke="#000" stroke-width="5.0" fill="none"/>
<path d="M1132.0 570.0 C1137.5 573.0 1155.3 581.9 1165.0 588.0 C1174.7 594.1 1186.2 603.3 1190.4 606.4" stroke="#fff" stroke-width="2.2" fill="none"/>
<path d="M1064 543 L1101 542 L1104 546 L1100 553 L1066 555 L1062 548Z" stroke="#000" stroke-width="1.8" fill="#fff" />
<path d="M1107 542 L1134 547 L1137 551 L1134 556 L1108 552 L1105 546Z" stroke="#000" stroke-width="1.8" fill="#fff" />
<path d="M1046 572 L1088 561 L1092 566 L1090 573 L1048 583 L1043 577Z" stroke="#000" stroke-width="1.8" fill="#fff" />
<path d="M1096 560 L1132 565 L1135 569 L1132 574 L1097 571 L1094 565Z" stroke="#000" stroke-width="1.8" fill="#fff" />
<path d="M1101 546 L1107 546 M1101 550 L1107 550 M1090 566 L1096 566 M1090 569 L1096 569" stroke="#000" stroke-width="1.4" fill="none" />
<path d="M933 600.4 L951 590.3 M935 596 L948 590 L951 596 L938 604Z M917 609 L933 600.4" stroke="#000" stroke-width="1.8" fill="none" />
<circle cx="918" cy="609" r="3" stroke="#000" stroke-width="1.8" fill="#fff"/>
<path d="M1182 584 L1194.5 590 L1191 596 L1180 590Z M1194 592 L1204.5 598.3" stroke="#000" stroke-width="1.8" fill="none" />
<path d="M930 638 L951 628.5 M935 634 L950 627 L953 632 L938 640Z" stroke="#000" stroke-width="1.8" fill="none" />
<circle cx="920" cy="645.5" r="3" stroke="#000" stroke-width="1.8" fill="#fff"/>
<path d="M920 645.5 L932 638" stroke="#000" stroke-width="1.8" fill="none" />
<path d="M1186 601 L1192 606 L1190 611 L1183 606Z M1190 608 L1216 630" stroke="#000" stroke-width="1.8" fill="none" />
<circle cx="1217.5" cy="632" r="3" stroke="#000" stroke-width="1.8" fill="#fff"/>
<path d="M1294.1 537.0 L1299.8 537.0 L1304.0 544.7 L1312.4 550.4 L1314.6 556.0 L1315.3 575.8 L1318.8 576.5 L1318.8 598.3 L1311.0 601.2 L1311.7 609.6 L1309.6 616.7 L1306.8 637.8 L1299.8 647.7 L1294.1 663.2 L1284.2 667.5 L1278.6 671.7 L1271.5 664.6 L1257.4 656.2 L1240.5 649.1 L1239.1 642.1 L1244.7 626.6 L1246.2 618.1 L1243.3 611.0 L1246.2 570.1 L1249.0 563.1 L1261.7 558.9 L1292.7 549.0Z" stroke="#000" stroke-width="2.4" fill="none" />
<path d="M1249.0 567.3 L1292.7 553.2 L1308.2 551.1 M1249.7 568.7 L1246.2 609.6 L1248.3 616.7 M1287.1 562.4 L1306.8 557.4 L1307.5 571.5 L1289.9 575.8 L1287.1 562.4 M1306.8 553.2 L1309.6 573.0 L1311.0 598.3 M1267.3 596.9 L1271.5 612.4 M1273.0 596.9 L1277.2 611.0 M1278.6 598.3 L1282.1 609.6 M1284.2 595.5 L1287.1 608.2 M1285.6 606.8 L1309.6 581.4 M1291.3 609.6 L1315.3 584.2 M1309.6 581.4 L1315.3 584.2 M1246.2 632.2 L1265.9 646.3 M1249.0 626.6 L1270.1 642.1 M1251.8 623.7 L1274.4 637.8 M1241.9 626.6 L1275.8 647.7 M1257.4 623.7 L1263.1 632.2 M1261.7 622.3 L1267.3 635.0 M1295.5 609.6 L1308.2 609.6 L1309.6 623.7 L1296.9 623.7 L1295.5 609.6 M1298.3 615.3 L1308.2 615.3 M1295.5 632.2 L1305.4 629.4 L1306.8 640.7 M1264.5 649.1 L1278.6 654.8 L1298.3 657.6 M1275.8 637.8 L1287.1 646.3 L1298.3 646.3 M1288.5 581.4 L1298.3 571.5 M1256.0 592.7 L1284.2 591.3 M1304.0 601.2 L1316.7 604.0 M1299.8 604.0 L1309.6 606.8" stroke="#000" stroke-width="1.8" fill="none" />
<circle cx="1270.5" cy="580" r="7.2" stroke="#000" stroke-width="2" fill="none"/>
<circle cx="1268.5" cy="583" r="4.2" stroke="#000" stroke-width="1.6" fill="none"/>
<circle cx="1268.7" cy="622.3" r="3.4" stroke="#000" stroke-width="1.7" fill="none"/>
<circle cx="1284" cy="622" r="5" stroke="#000" stroke-width="1.7" fill="none"/>
<path d="M1280.0 567.3 L1284.2 565.9 L1284.9 570.1 L1280.7 570.8Z M1299.8 635.0 L1305.4 633.6 L1306.1 642.1 L1301.2 643.5Z M1247.6 623.7 L1253.2 622.3 L1251.8 629.4Z" stroke="#000" stroke-width="1.2" fill="#000" />
<path d="M1251.1 571.1 L1261.9 564.9 L1277.4 566.4 L1283.5 578.8 L1280.4 589.6 L1268.1 594.3 L1254.1 592.7 M1286.6 558.7 L1306.7 554.0 L1308.3 572.6 L1289.7 577.2 L1286.6 558.7 M1244.9 628.3 L1274.3 640.7 M1246.4 637.6 L1272.7 651.5 M1251.1 625.2 L1265.0 650.0 M1257.2 623.7 L1269.6 646.9 M1243.3 643.8 L1268.1 656.1 M1292.8 612.8 L1308.3 609.7 L1308.3 632.9 L1295.9 636.0 M1265.0 656.1 L1277.4 650.0 L1299.0 654.6 M1299.0 600.4 L1312.9 597.4 M1292.8 591.2 L1308.3 588.1" stroke="#000" stroke-width="1.7" fill="none" />
<path d="M1241.8 622.1 L1246.4 620.6 L1248.0 642.2 L1242.5 643.8Z M1274.3 656.1 L1283.5 668.5 L1277.4 670.1 L1271.2 659.2Z M1299.0 634.5 L1308.3 632.9 L1306.7 643.8 L1299.0 645.3Z" stroke="#000" stroke-width="1" fill="#000" />
<path d="M1374 562 L1392 559.5 L1393.5 568 L1375 570Z" stroke="#000" stroke-width="1.8" fill="#fff" />
<path d="M1378 561 L1379 569 M1382 561 L1383 569 M1386 560 L1387 568" stroke="#000" stroke-width="1.4" fill="none" />
<path d="M1392 559.5 L1399 554 A4 9 0 0 1 1406 570 L1398 571 Z" stroke="#000" stroke-width="2" fill="#fff" />
<path d="M1321 575.7 L1373 566.6" stroke="#000" stroke-width="2" fill="none" stroke-dasharray="8 5" />
<path d="M1531.1 528.0 L1538.4 535.4 L1543.0 551.9 L1543.0 570.2 L1529.3 581.2 L1522.9 575.7 L1524.7 568.4 L1521.9 566.6 L1512.8 564.7 L1501.8 557.4 L1500.8 551.9 L1507.3 549.1 L1517.4 550.1 L1518.3 539.0 L1523.8 531.7Z" stroke="#000" stroke-width="2.2" fill="none" />
<path d="M1520.1 542.7 L1536.6 553.7 L1538.4 568.4 M1517.4 550.1 L1527.4 557.4 L1528.4 566.6 M1503.6 552.8 L1520.1 560.1 M1529.3 553.7 L1538.4 550.1 M1507.3 550.1 L1512.8 559.2 L1522.9 561.1 M1518.3 542.7 L1534.8 550.1 M1525.6 572.1 L1538.4 566.6" stroke="#000" stroke-width="1.6" fill="none" />
<path d="M1530.2 533.5 L1533.9 535.4 L1533.9 544.5 L1530.7 542.7Z" stroke="#000" stroke-width="1" fill="#000" />
<path d="M1459 578 L1477 577.6 L1477 585 L1459 585.5Z" stroke="#000" stroke-width="1.8" fill="#fff" />
<path d="M1463 578 L1463 585 M1467 578 L1467 585 M1471 578 L1471 585" stroke="#000" stroke-width="1.4" fill="none" />
<path d="M1459.5 576.6 A5 8 0 1 0 1459.5 592 Z" stroke="#000" stroke-width="2" fill="#fff" />
<path d="M1478.8 578.5 L1527.4 569.3" stroke="#000" stroke-width="2" fill="none" stroke-dasharray="8 5" />
<ellipse cx="1357.3" cy="633.6" rx="13" ry="13.3" stroke="#000" stroke-width="2.8" fill="#fff"/>
<ellipse cx="1357.8" cy="635" rx="6.5" ry="8.6" transform="rotate(30 1357.8 635)" stroke="#000" stroke-width="2.2" fill="none"/>
<path d="M1298 599 L1344 626" stroke="#000" stroke-width="2" fill="none" stroke-dasharray="8 5" />
<path d="M798.0 690.1 L803.6 675.4 L811.5 667.5 L834.1 656.2 L836.4 648.3 L870.3 634.7 L874.9 638.1 L876.0 644.9 L880.5 644.9 L881.6 649.4 L877.1 652.8 L879.4 667.5 L871.5 672.0 L871.5 678.8 L852.2 689.0 L825.1 700.3 L811.5 702.5 L804.8 694.6Z" stroke="#000" stroke-width="2.4" fill="none" />
<path d="M804.8 687.8 L808.1 676.5 L813.8 669.8 L836.4 658.4 L838.7 651.7 L869.2 638.1 L873.7 641.5 L876.0 653.9 L877.1 666.4 L869.2 670.9 M822.8 669.8 L822.3 676.5 L827.4 677.1 M828.5 669.8 L836.4 674.3 M844.3 659.6 L845.5 676.5 M847.7 657.3 L848.8 678.8 M850.0 657.3 L863.5 665.2 M850.0 665.2 L857.9 667.5 M851.1 672.0 L859.0 669.8 M852.2 677.7 L871.5 673.1 M853.4 683.3 L871.5 677.7 M854.5 680.5 L868.1 676.0 M818.3 694.6 L843.2 684.5 M820.6 698.0 L848.8 687.8 M822.8 699.7 L852.2 689.0 M809.3 684.5 L813.8 694.6 L818.3 699.1 M863.5 668.6 L870.3 672.0 M859.0 648.3 L868.1 657.3 M868.1 642.6 L874.9 647.1" stroke="#000" stroke-width="1.7" fill="none" />
<path d="M798.0 687.8 L803.6 686.7 L804.8 693.5 L799.1 692.4Z M802.5 676.5 L805.3 676.0 L805.9 683.3 L803.1 683.9Z M834.1 648.3 L839.8 647.1 L842.1 652.8 L835.8 653.9Z" stroke="#000" stroke-width="1" fill="#000" />
<circle cx="774.2" cy="641" r="8.5" stroke="#000" stroke-width="2.2" fill="#fff"/>
<path d="M766 632 L762 634 L766 645 M771 640 L775 640 L775 644" stroke="#000" stroke-width="1.8" fill="none" />
<rect x="910" y="689" width="6" height="17" rx="3" stroke="#000" stroke-width="1.8" fill="#fff"/>
<ellipse cx="889.6" cy="707" rx="6.5" ry="7" stroke="#000" stroke-width="2" fill="#fff"/>
<path d="M884 710 L878 714" stroke="#000" stroke-width="2.4" fill="none" />
<path d="M886.5 761.7 L897 761.7 L904 766 L899 775 L890.3 768.3Z" stroke="#000" stroke-width="2.2" fill="#fff" />
<path d="M891 763 L893 767 M895 763 L896.5 769 M899 765 L900 771" stroke="#000" stroke-width="1.6" fill="none" />
<ellipse cx="909" cy="773.2" rx="10.2" ry="9.4" stroke="#000" stroke-width="3" fill="#fff"/>
<path d="M902 780 A7 7 0 0 1 910 765 M906 770 A5 5 0 1 1 912 781 M911 770 L911 778 M908 774 L914 774" stroke="#000" stroke-width="1.6" fill="none"/>
<path d="M783.3 645.4 L815 663" stroke="#000" stroke-width="2" fill="none" stroke-dasharray="8 5" />
<path d="M863.5 668.6 L905.4 692.4" stroke="#000" stroke-width="2" fill="none" stroke-dasharray="8 5" />
<path d="M861.3 690.1 L880.5 700.3" stroke="#000" stroke-width="2" fill="none" stroke-dasharray="8 5" />
<path d="M865 692 L865 750.5 L888.7 763" stroke="#000" stroke-width="2.2" fill="none" stroke-dasharray="8 5" />
</svg></body></html>
